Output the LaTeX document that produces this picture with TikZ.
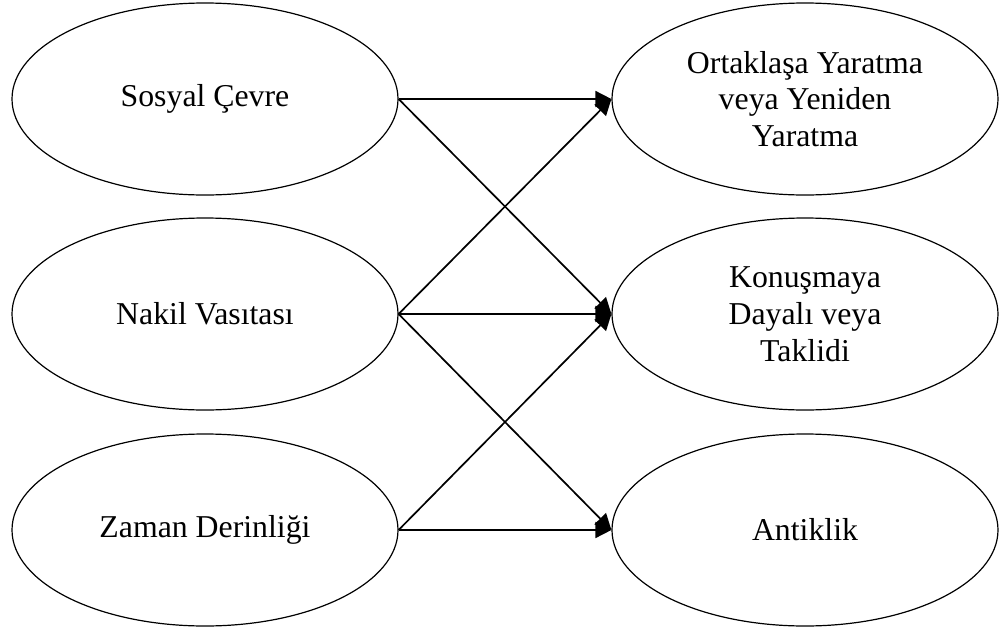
\documentclass[tikz,border=0pt]{standalone}
\usepackage{fontspec}
\setmainfont{Liberation Serif}
\usetikzlibrary{arrows.meta,shapes.geometric}
\begin{document}
\begin{tikzpicture}[x=0.5pt,y=-0.5pt,
  oval/.style={draw=black,line width=0.6pt,ellipse,minimum width=193pt,minimum height=96pt,inner sep=0pt,align=center,font=\fontsize{15.9}{18.4}\selectfont},
  link/.style={draw=black,line width=0.85pt,-{Triangle[length=8pt,width=8pt]}}]
\useasboundingbox (0,0) rectangle (1003,632);
\node[oval] (s) at (205,99) {Sosyal Çevre};
\node[oval] (n) at (205,314) {Nakil Vasıtası};
\node[oval] (z) at (205,530) {Zaman Derinliği};
\node[oval] (o) at (805,99) {Ortaklaşa Yaratma\\veya Yeniden\\Yaratma};
\node[oval] (k) at (805,314) {Konuşmaya\\Dayalı veya\\Taklidi};
\node[oval] (a) at (805,530) {Antiklik};
\draw[link] (s.east) -- (o.west);
\draw[link] (s.east) -- (k.west);
\draw[link] (n.east) -- (o.west);
\draw[link] (n.east) -- (k.west);
\draw[link] (n.east) -- (a.west);
\draw[link] (z.east) -- (k.west);
\draw[link] (z.east) -- (a.west);
\end{tikzpicture}
\end{document}
